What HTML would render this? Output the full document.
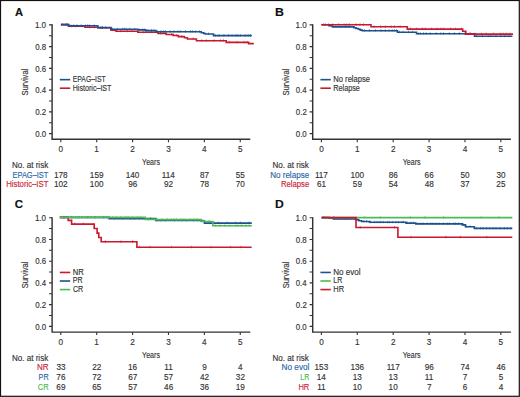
<!DOCTYPE html>
<html><head><meta charset="utf-8"><style>
html,body{margin:0;padding:0;background:#fff;}
body{width:520px;height:397px;overflow:hidden;}
svg{display:block;font-family:"Liberation Sans", sans-serif;}
</style></head><body>
<svg width="520" height="397" viewBox="0 0 520 397">
<rect x="0" y="0" width="520" height="397" fill="#fff"/>
<g transform="translate(0,0)">
<text transform="translate(14.92,15.50) scale(0.965,1)" font-size="11.60" font-weight="bold" fill="#111" stroke="#111" stroke-width="0.15">A</text>
<path d="M52.1,24.349999999999998 V139.3 H250.3" fill="none" stroke="#333333" stroke-width="1.45" stroke-linejoin="miter"/>
<path d="M49.0,24.90 H52.1 M49.0,35.77 H52.1 M49.0,46.64 H52.1 M49.0,57.51 H52.1 M49.0,68.38 H52.1 M49.0,79.25 H52.1 M49.0,90.12 H52.1 M49.0,100.99 H52.1 M49.0,111.86 H52.1 M49.0,122.73 H52.1 M49.0,133.60 H52.1 M60.80,139.3 V142.3 M96.69,139.3 V142.3 M132.58,139.3 V142.3 M168.47,139.3 V142.3 M204.36,139.3 V142.3 M240.25,139.3 V142.3" stroke="#333333" stroke-width="1.1"/>
<text transform="translate(34.89,28.10) scale(0.929,1)" font-size="8.70" fill="#333333" stroke="#333333" stroke-width="0.15">1.0</text>
<text transform="translate(35.19,49.84) scale(0.904,1)" font-size="8.70" fill="#333333" stroke="#333333" stroke-width="0.15">0.8</text>
<text transform="translate(35.18,71.58) scale(0.907,1)" font-size="8.70" fill="#333333" stroke="#333333" stroke-width="0.15">0.6</text>
<text transform="translate(35.19,93.32) scale(0.897,1)" font-size="8.70" fill="#333333" stroke="#333333" stroke-width="0.15">0.4</text>
<text transform="translate(35.18,115.06) scale(0.911,1)" font-size="8.70" fill="#333333" stroke="#333333" stroke-width="0.15">0.2</text>
<text transform="translate(35.19,136.80) scale(0.904,1)" font-size="8.70" fill="#333333" stroke="#333333" stroke-width="0.15">0.0</text>
<text transform="translate(58.53,151.80) scale(0.940,1)" font-size="8.70" fill="#333333" stroke="#333333" stroke-width="0.15">0</text>
<text transform="translate(94.32,151.80) scale(0.940,1)" font-size="8.70" fill="#333333" stroke="#333333" stroke-width="0.15">1</text>
<text transform="translate(130.31,151.80) scale(0.940,1)" font-size="8.70" fill="#333333" stroke="#333333" stroke-width="0.15">2</text>
<text transform="translate(166.22,151.80) scale(0.940,1)" font-size="8.70" fill="#333333" stroke="#333333" stroke-width="0.15">3</text>
<text transform="translate(202.11,151.80) scale(0.940,1)" font-size="8.70" fill="#333333" stroke="#333333" stroke-width="0.15">4</text>
<text transform="translate(237.98,151.80) scale(0.940,1)" font-size="8.70" fill="#333333" stroke="#333333" stroke-width="0.15">5</text>
<text transform="translate(142.12,165.00) scale(0.722,1)" font-size="9.80" fill="#333333" stroke="#333333" stroke-width="0.15">Years</text>
<g transform="translate(28.0,95.2) rotate(-90)"><text transform="translate(-0.34,0) scale(0.898,1)" font-size="8.40" fill="#333333" stroke="#333333" stroke-width="0.15">Survival</text></g>
<path d="M59.8,79.65 H70.2" stroke="#1d5290" stroke-width="1.6"/>
<text transform="translate(72.75,81.95) scale(0.787,1)" font-size="8.70" fill="#333333" stroke="#333333" stroke-width="0.15">EPAG–IST</text>
<path d="M59.8,88.21 H70.2" stroke="#c8192e" stroke-width="1.6"/>
<text transform="translate(72.73,90.65) scale(0.819,1)" font-size="8.70" fill="#333333" stroke="#333333" stroke-width="0.15">Historic–IST</text>
<text transform="translate(11.95,167.80) scale(0.928,1)" font-size="8.70" fill="#333333" stroke="#333333" stroke-width="0.15">No. at risk</text>
<text transform="translate(12.50,177.50) scale(0.858,1)" font-size="8.70" fill="#2a68a6" stroke="#2a68a6" stroke-width="0.15">EPAG–IST</text>
<text transform="translate(53.95,177.50) scale(0.940,1)" font-size="8.70" fill="#333333" stroke="#333333" stroke-width="0.15">178</text>
<text transform="translate(89.86,177.50) scale(0.940,1)" font-size="8.70" fill="#333333" stroke="#333333" stroke-width="0.15">159</text>
<text transform="translate(125.73,177.50) scale(0.940,1)" font-size="8.70" fill="#333333" stroke="#333333" stroke-width="0.15">140</text>
<text transform="translate(161.86,177.50) scale(0.940,1)" font-size="8.70" fill="#333333" stroke="#333333" stroke-width="0.15">114</text>
<text transform="translate(199.94,177.50) scale(0.940,1)" font-size="8.70" fill="#333333" stroke="#333333" stroke-width="0.15">87</text>
<text transform="translate(235.81,177.50) scale(0.940,1)" font-size="8.70" fill="#333333" stroke="#333333" stroke-width="0.15">55</text>
<text transform="translate(6.28,187.10) scale(0.890,1)" font-size="8.70" fill="#cc2438" stroke="#cc2438" stroke-width="0.15">Historic–IST</text>
<text transform="translate(53.99,187.10) scale(0.940,1)" font-size="8.70" fill="#333333" stroke="#333333" stroke-width="0.15">102</text>
<text transform="translate(89.84,187.10) scale(0.940,1)" font-size="8.70" fill="#333333" stroke="#333333" stroke-width="0.15">100</text>
<text transform="translate(128.14,187.10) scale(0.940,1)" font-size="8.70" fill="#333333" stroke="#333333" stroke-width="0.15">96</text>
<text transform="translate(164.05,187.10) scale(0.940,1)" font-size="8.70" fill="#333333" stroke="#333333" stroke-width="0.15">92</text>
<text transform="translate(199.88,187.10) scale(0.940,1)" font-size="8.70" fill="#333333" stroke="#333333" stroke-width="0.15">78</text>
<text transform="translate(235.77,187.10) scale(0.940,1)" font-size="8.70" fill="#333333" stroke="#333333" stroke-width="0.15">70</text>
</g>
<g transform="translate(260.6,0)">
<text transform="translate(14.40,15.50) scale(1.060,1)" font-size="11.60" font-weight="bold" fill="#111" stroke="#111" stroke-width="0.15">B</text>
<path d="M52.1,24.349999999999998 V139.3 H250.3" fill="none" stroke="#333333" stroke-width="1.45" stroke-linejoin="miter"/>
<path d="M49.0,24.90 H52.1 M49.0,35.77 H52.1 M49.0,46.64 H52.1 M49.0,57.51 H52.1 M49.0,68.38 H52.1 M49.0,79.25 H52.1 M49.0,90.12 H52.1 M49.0,100.99 H52.1 M49.0,111.86 H52.1 M49.0,122.73 H52.1 M49.0,133.60 H52.1 M60.80,139.3 V142.3 M96.69,139.3 V142.3 M132.58,139.3 V142.3 M168.47,139.3 V142.3 M204.36,139.3 V142.3 M240.25,139.3 V142.3" stroke="#333333" stroke-width="1.1"/>
<text transform="translate(34.89,28.10) scale(0.929,1)" font-size="8.70" fill="#333333" stroke="#333333" stroke-width="0.15">1.0</text>
<text transform="translate(35.19,49.84) scale(0.904,1)" font-size="8.70" fill="#333333" stroke="#333333" stroke-width="0.15">0.8</text>
<text transform="translate(35.18,71.58) scale(0.907,1)" font-size="8.70" fill="#333333" stroke="#333333" stroke-width="0.15">0.6</text>
<text transform="translate(35.19,93.32) scale(0.897,1)" font-size="8.70" fill="#333333" stroke="#333333" stroke-width="0.15">0.4</text>
<text transform="translate(35.18,115.06) scale(0.911,1)" font-size="8.70" fill="#333333" stroke="#333333" stroke-width="0.15">0.2</text>
<text transform="translate(35.19,136.80) scale(0.904,1)" font-size="8.70" fill="#333333" stroke="#333333" stroke-width="0.15">0.0</text>
<text transform="translate(58.53,151.80) scale(0.940,1)" font-size="8.70" fill="#333333" stroke="#333333" stroke-width="0.15">0</text>
<text transform="translate(94.32,151.80) scale(0.940,1)" font-size="8.70" fill="#333333" stroke="#333333" stroke-width="0.15">1</text>
<text transform="translate(130.31,151.80) scale(0.940,1)" font-size="8.70" fill="#333333" stroke="#333333" stroke-width="0.15">2</text>
<text transform="translate(166.22,151.80) scale(0.940,1)" font-size="8.70" fill="#333333" stroke="#333333" stroke-width="0.15">3</text>
<text transform="translate(202.11,151.80) scale(0.940,1)" font-size="8.70" fill="#333333" stroke="#333333" stroke-width="0.15">4</text>
<text transform="translate(237.98,151.80) scale(0.940,1)" font-size="8.70" fill="#333333" stroke="#333333" stroke-width="0.15">5</text>
<text transform="translate(142.12,165.00) scale(0.722,1)" font-size="9.80" fill="#333333" stroke="#333333" stroke-width="0.15">Years</text>
<g transform="translate(28.0,95.2) rotate(-90)"><text transform="translate(-0.34,0) scale(0.898,1)" font-size="8.40" fill="#333333" stroke="#333333" stroke-width="0.15">Survival</text></g>
<path d="M59.8,79.65 H70.2" stroke="#1d5290" stroke-width="1.6"/>
<text transform="translate(72.69,81.95) scale(0.874,1)" font-size="8.70" fill="#333333" stroke="#333333" stroke-width="0.15">No relapse</text>
<path d="M59.8,88.21 H70.2" stroke="#c8192e" stroke-width="1.6"/>
<text transform="translate(72.72,90.65) scale(0.833,1)" font-size="8.70" fill="#333333" stroke="#333333" stroke-width="0.15">Relapse</text>
<text transform="translate(11.95,167.80) scale(0.928,1)" font-size="8.70" fill="#333333" stroke="#333333" stroke-width="0.15">No. at risk</text>
<text transform="translate(9.55,177.50) scale(0.930,1)" font-size="8.70" fill="#2a68a6" stroke="#2a68a6" stroke-width="0.15">No relapse</text>
<text transform="translate(54.28,177.50) scale(0.940,1)" font-size="8.70" fill="#333333" stroke="#333333" stroke-width="0.15">117</text>
<text transform="translate(89.84,177.50) scale(0.940,1)" font-size="8.70" fill="#333333" stroke="#333333" stroke-width="0.15">100</text>
<text transform="translate(128.14,177.50) scale(0.940,1)" font-size="8.70" fill="#333333" stroke="#333333" stroke-width="0.15">86</text>
<text transform="translate(164.01,177.50) scale(0.940,1)" font-size="8.70" fill="#333333" stroke="#333333" stroke-width="0.15">66</text>
<text transform="translate(199.92,177.50) scale(0.940,1)" font-size="8.70" fill="#333333" stroke="#333333" stroke-width="0.15">50</text>
<text transform="translate(235.81,177.50) scale(0.940,1)" font-size="8.70" fill="#333333" stroke="#333333" stroke-width="0.15">30</text>
<text transform="translate(20.28,187.10) scale(0.888,1)" font-size="8.70" fill="#cc2438" stroke="#cc2438" stroke-width="0.15">Relapse</text>
<text transform="translate(56.36,187.10) scale(0.940,1)" font-size="8.70" fill="#333333" stroke="#333333" stroke-width="0.15">61</text>
<text transform="translate(92.27,187.10) scale(0.940,1)" font-size="8.70" fill="#333333" stroke="#333333" stroke-width="0.15">59</text>
<text transform="translate(128.10,187.10) scale(0.940,1)" font-size="8.70" fill="#333333" stroke="#333333" stroke-width="0.15">54</text>
<text transform="translate(164.09,187.10) scale(0.940,1)" font-size="8.70" fill="#333333" stroke="#333333" stroke-width="0.15">48</text>
<text transform="translate(199.96,187.10) scale(0.940,1)" font-size="8.70" fill="#333333" stroke="#333333" stroke-width="0.15">37</text>
<text transform="translate(235.77,187.10) scale(0.940,1)" font-size="8.70" fill="#333333" stroke="#333333" stroke-width="0.15">25</text>
</g>
<g transform="translate(0,192.8)">
<text transform="translate(14.74,15.50) scale(0.987,1)" font-size="11.60" font-weight="bold" fill="#111" stroke="#111" stroke-width="0.15">C</text>
<path d="M52.1,24.349999999999998 V139.3 H250.3" fill="none" stroke="#333333" stroke-width="1.45" stroke-linejoin="miter"/>
<path d="M49.0,24.90 H52.1 M49.0,35.77 H52.1 M49.0,46.64 H52.1 M49.0,57.51 H52.1 M49.0,68.38 H52.1 M49.0,79.25 H52.1 M49.0,90.12 H52.1 M49.0,100.99 H52.1 M49.0,111.86 H52.1 M49.0,122.73 H52.1 M49.0,133.60 H52.1 M60.80,139.3 V142.3 M96.69,139.3 V142.3 M132.58,139.3 V142.3 M168.47,139.3 V142.3 M204.36,139.3 V142.3 M240.25,139.3 V142.3" stroke="#333333" stroke-width="1.1"/>
<text transform="translate(34.89,28.10) scale(0.929,1)" font-size="8.70" fill="#333333" stroke="#333333" stroke-width="0.15">1.0</text>
<text transform="translate(35.19,49.84) scale(0.904,1)" font-size="8.70" fill="#333333" stroke="#333333" stroke-width="0.15">0.8</text>
<text transform="translate(35.18,71.58) scale(0.907,1)" font-size="8.70" fill="#333333" stroke="#333333" stroke-width="0.15">0.6</text>
<text transform="translate(35.19,93.32) scale(0.897,1)" font-size="8.70" fill="#333333" stroke="#333333" stroke-width="0.15">0.4</text>
<text transform="translate(35.18,115.06) scale(0.911,1)" font-size="8.70" fill="#333333" stroke="#333333" stroke-width="0.15">0.2</text>
<text transform="translate(35.19,136.80) scale(0.904,1)" font-size="8.70" fill="#333333" stroke="#333333" stroke-width="0.15">0.0</text>
<text transform="translate(58.53,151.80) scale(0.940,1)" font-size="8.70" fill="#333333" stroke="#333333" stroke-width="0.15">0</text>
<text transform="translate(94.32,151.80) scale(0.940,1)" font-size="8.70" fill="#333333" stroke="#333333" stroke-width="0.15">1</text>
<text transform="translate(130.31,151.80) scale(0.940,1)" font-size="8.70" fill="#333333" stroke="#333333" stroke-width="0.15">2</text>
<text transform="translate(166.22,151.80) scale(0.940,1)" font-size="8.70" fill="#333333" stroke="#333333" stroke-width="0.15">3</text>
<text transform="translate(202.11,151.80) scale(0.940,1)" font-size="8.70" fill="#333333" stroke="#333333" stroke-width="0.15">4</text>
<text transform="translate(237.98,151.80) scale(0.940,1)" font-size="8.70" fill="#333333" stroke="#333333" stroke-width="0.15">5</text>
<text transform="translate(142.12,165.00) scale(0.722,1)" font-size="9.80" fill="#333333" stroke="#333333" stroke-width="0.15">Years</text>
<g transform="translate(28.0,95.2) rotate(-90)"><text transform="translate(-0.34,0) scale(0.898,1)" font-size="8.40" fill="#333333" stroke="#333333" stroke-width="0.15">Survival</text></g>
<path d="M59.8,79.65 H70.2" stroke="#c8192e" stroke-width="1.6"/>
<text transform="translate(72.69,81.95) scale(0.874,1)" font-size="8.70" fill="#333333" stroke="#333333" stroke-width="0.15">NR</text>
<path d="M59.8,88.21 H70.2" stroke="#1d5290" stroke-width="1.6"/>
<text transform="translate(72.73,90.65) scale(0.812,1)" font-size="8.70" fill="#333333" stroke="#333333" stroke-width="0.15">PR</text>
<path d="M59.8,96.77 H70.2" stroke="#4dba55" stroke-width="1.6"/>
<text transform="translate(72.94,99.35) scale(0.820,1)" font-size="8.70" fill="#333333" stroke="#333333" stroke-width="0.15">CR</text>
<text transform="translate(11.95,167.80) scale(0.928,1)" font-size="8.70" fill="#333333" stroke="#333333" stroke-width="0.15">No. at risk</text>
<text transform="translate(37.06,177.50) scale(0.927,1)" font-size="8.70" fill="#cc2438" stroke="#cc2438" stroke-width="0.15">NR</text>
<text transform="translate(56.38,177.50) scale(0.940,1)" font-size="8.70" fill="#333333" stroke="#333333" stroke-width="0.15">33</text>
<text transform="translate(92.25,177.50) scale(0.940,1)" font-size="8.70" fill="#333333" stroke="#333333" stroke-width="0.15">22</text>
<text transform="translate(128.02,177.50) scale(0.940,1)" font-size="8.70" fill="#333333" stroke="#333333" stroke-width="0.15">16</text>
<text transform="translate(164.24,177.50) scale(0.940,1)" font-size="8.70" fill="#333333" stroke="#333333" stroke-width="0.15">11</text>
<text transform="translate(202.19,177.50) scale(0.940,1)" font-size="8.70" fill="#333333" stroke="#333333" stroke-width="0.15">9</text>
<text transform="translate(238.10,177.50) scale(0.940,1)" font-size="8.70" fill="#333333" stroke="#333333" stroke-width="0.15">4</text>
<text transform="translate(38.62,187.10) scale(0.830,1)" font-size="8.70" fill="#2a68a6" stroke="#2a68a6" stroke-width="0.15">PR</text>
<text transform="translate(56.34,187.10) scale(0.940,1)" font-size="8.70" fill="#333333" stroke="#333333" stroke-width="0.15">76</text>
<text transform="translate(92.25,187.10) scale(0.940,1)" font-size="8.70" fill="#333333" stroke="#333333" stroke-width="0.15">72</text>
<text transform="translate(128.14,187.10) scale(0.940,1)" font-size="8.70" fill="#333333" stroke="#333333" stroke-width="0.15">67</text>
<text transform="translate(164.07,187.10) scale(0.940,1)" font-size="8.70" fill="#333333" stroke="#333333" stroke-width="0.15">57</text>
<text transform="translate(200.02,187.10) scale(0.940,1)" font-size="8.70" fill="#333333" stroke="#333333" stroke-width="0.15">42</text>
<text transform="translate(235.85,187.10) scale(0.940,1)" font-size="8.70" fill="#333333" stroke="#333333" stroke-width="0.15">32</text>
<text transform="translate(37.82,196.70) scale(0.863,1)" font-size="8.70" fill="#4cb84f" stroke="#4cb84f" stroke-width="0.15">CR</text>
<text transform="translate(56.34,196.70) scale(0.940,1)" font-size="8.70" fill="#333333" stroke="#333333" stroke-width="0.15">69</text>
<text transform="translate(92.21,196.70) scale(0.940,1)" font-size="8.70" fill="#333333" stroke="#333333" stroke-width="0.15">65</text>
<text transform="translate(128.18,196.70) scale(0.940,1)" font-size="8.70" fill="#333333" stroke="#333333" stroke-width="0.15">57</text>
<text transform="translate(164.11,196.70) scale(0.940,1)" font-size="8.70" fill="#333333" stroke="#333333" stroke-width="0.15">46</text>
<text transform="translate(199.94,196.70) scale(0.940,1)" font-size="8.70" fill="#333333" stroke="#333333" stroke-width="0.15">36</text>
<text transform="translate(235.69,196.70) scale(0.940,1)" font-size="8.70" fill="#333333" stroke="#333333" stroke-width="0.15">19</text>
</g>
<g transform="translate(260.6,192.8)">
<text transform="translate(14.41,15.50) scale(1.051,1)" font-size="11.60" font-weight="bold" fill="#111" stroke="#111" stroke-width="0.15">D</text>
<path d="M52.1,24.349999999999998 V139.3 H250.3" fill="none" stroke="#333333" stroke-width="1.45" stroke-linejoin="miter"/>
<path d="M49.0,24.90 H52.1 M49.0,35.77 H52.1 M49.0,46.64 H52.1 M49.0,57.51 H52.1 M49.0,68.38 H52.1 M49.0,79.25 H52.1 M49.0,90.12 H52.1 M49.0,100.99 H52.1 M49.0,111.86 H52.1 M49.0,122.73 H52.1 M49.0,133.60 H52.1 M60.80,139.3 V142.3 M96.69,139.3 V142.3 M132.58,139.3 V142.3 M168.47,139.3 V142.3 M204.36,139.3 V142.3 M240.25,139.3 V142.3" stroke="#333333" stroke-width="1.1"/>
<text transform="translate(34.89,28.10) scale(0.929,1)" font-size="8.70" fill="#333333" stroke="#333333" stroke-width="0.15">1.0</text>
<text transform="translate(35.19,49.84) scale(0.904,1)" font-size="8.70" fill="#333333" stroke="#333333" stroke-width="0.15">0.8</text>
<text transform="translate(35.18,71.58) scale(0.907,1)" font-size="8.70" fill="#333333" stroke="#333333" stroke-width="0.15">0.6</text>
<text transform="translate(35.19,93.32) scale(0.897,1)" font-size="8.70" fill="#333333" stroke="#333333" stroke-width="0.15">0.4</text>
<text transform="translate(35.18,115.06) scale(0.911,1)" font-size="8.70" fill="#333333" stroke="#333333" stroke-width="0.15">0.2</text>
<text transform="translate(35.19,136.80) scale(0.904,1)" font-size="8.70" fill="#333333" stroke="#333333" stroke-width="0.15">0.0</text>
<text transform="translate(58.53,151.80) scale(0.940,1)" font-size="8.70" fill="#333333" stroke="#333333" stroke-width="0.15">0</text>
<text transform="translate(94.32,151.80) scale(0.940,1)" font-size="8.70" fill="#333333" stroke="#333333" stroke-width="0.15">1</text>
<text transform="translate(130.31,151.80) scale(0.940,1)" font-size="8.70" fill="#333333" stroke="#333333" stroke-width="0.15">2</text>
<text transform="translate(166.22,151.80) scale(0.940,1)" font-size="8.70" fill="#333333" stroke="#333333" stroke-width="0.15">3</text>
<text transform="translate(202.11,151.80) scale(0.940,1)" font-size="8.70" fill="#333333" stroke="#333333" stroke-width="0.15">4</text>
<text transform="translate(237.98,151.80) scale(0.940,1)" font-size="8.70" fill="#333333" stroke="#333333" stroke-width="0.15">5</text>
<text transform="translate(142.12,165.00) scale(0.722,1)" font-size="9.80" fill="#333333" stroke="#333333" stroke-width="0.15">Years</text>
<g transform="translate(28.0,95.2) rotate(-90)"><text transform="translate(-0.34,0) scale(0.898,1)" font-size="8.40" fill="#333333" stroke="#333333" stroke-width="0.15">Survival</text></g>
<path d="M59.8,79.65 H70.2" stroke="#1d5290" stroke-width="1.6"/>
<text transform="translate(72.65,81.95) scale(0.932,1)" font-size="8.70" fill="#333333" stroke="#333333" stroke-width="0.15">No evol</text>
<path d="M59.8,88.21 H70.2" stroke="#4dba55" stroke-width="1.6"/>
<text transform="translate(72.74,90.65) scale(0.810,1)" font-size="8.70" fill="#333333" stroke="#333333" stroke-width="0.15">LR</text>
<path d="M59.8,96.77 H70.2" stroke="#c8192e" stroke-width="1.6"/>
<text transform="translate(72.70,99.35) scale(0.857,1)" font-size="8.70" fill="#333333" stroke="#333333" stroke-width="0.15">HR</text>
<text transform="translate(11.95,167.80) scale(0.928,1)" font-size="8.70" fill="#333333" stroke="#333333" stroke-width="0.15">No. at risk</text>
<text transform="translate(20.94,177.50) scale(0.946,1)" font-size="8.70" fill="#2a68a6" stroke="#2a68a6" stroke-width="0.15">No evol</text>
<text transform="translate(53.97,177.50) scale(0.940,1)" font-size="8.70" fill="#333333" stroke="#333333" stroke-width="0.15">153</text>
<text transform="translate(89.86,177.50) scale(0.940,1)" font-size="8.70" fill="#333333" stroke="#333333" stroke-width="0.15">136</text>
<text transform="translate(126.06,177.50) scale(0.940,1)" font-size="8.70" fill="#333333" stroke="#333333" stroke-width="0.15">117</text>
<text transform="translate(164.03,177.50) scale(0.940,1)" font-size="8.70" fill="#333333" stroke="#333333" stroke-width="0.15">96</text>
<text transform="translate(199.84,177.50) scale(0.940,1)" font-size="8.70" fill="#333333" stroke="#333333" stroke-width="0.15">74</text>
<text transform="translate(235.89,177.50) scale(0.940,1)" font-size="8.70" fill="#333333" stroke="#333333" stroke-width="0.15">46</text>
<text transform="translate(39.74,187.10) scale(0.800,1)" font-size="8.70" fill="#4cb84f" stroke="#4cb84f" stroke-width="0.15">LR</text>
<text transform="translate(56.18,187.10) scale(0.940,1)" font-size="8.70" fill="#333333" stroke="#333333" stroke-width="0.15">14</text>
<text transform="translate(92.13,187.10) scale(0.940,1)" font-size="8.70" fill="#333333" stroke="#333333" stroke-width="0.15">13</text>
<text transform="translate(128.02,187.10) scale(0.940,1)" font-size="8.70" fill="#333333" stroke="#333333" stroke-width="0.15">13</text>
<text transform="translate(164.24,187.10) scale(0.940,1)" font-size="8.70" fill="#333333" stroke="#333333" stroke-width="0.15">11</text>
<text transform="translate(202.19,187.10) scale(0.940,1)" font-size="8.70" fill="#333333" stroke="#333333" stroke-width="0.15">7</text>
<text transform="translate(238.08,187.10) scale(0.940,1)" font-size="8.70" fill="#333333" stroke="#333333" stroke-width="0.15">5</text>
<text transform="translate(37.80,196.70) scale(0.865,1)" font-size="8.70" fill="#cc2438" stroke="#cc2438" stroke-width="0.15">HR</text>
<text transform="translate(56.57,196.70) scale(0.940,1)" font-size="8.70" fill="#333333" stroke="#333333" stroke-width="0.15">11</text>
<text transform="translate(92.11,196.70) scale(0.940,1)" font-size="8.70" fill="#333333" stroke="#333333" stroke-width="0.15">10</text>
<text transform="translate(128.00,196.70) scale(0.940,1)" font-size="8.70" fill="#333333" stroke="#333333" stroke-width="0.15">10</text>
<text transform="translate(166.30,196.70) scale(0.940,1)" font-size="8.70" fill="#333333" stroke="#333333" stroke-width="0.15">7</text>
<text transform="translate(202.17,196.70) scale(0.940,1)" font-size="8.70" fill="#333333" stroke="#333333" stroke-width="0.15">6</text>
<text transform="translate(238.10,196.70) scale(0.940,1)" font-size="8.70" fill="#333333" stroke="#333333" stroke-width="0.15">4</text>
</g>
<path d="M60.9,24.60 H68.5 V26.30 H85 V27.30 H98.2 V27.60 H111 V30.10 H116 V31.20 H137.8 V32.20 H158 V33.40 H166.2 V34.50 H173.2 V35.50 H178.4 V36.60 H184.4 V37.70 H187.4 V39.00 H196.4 V40.80 H226.2 V42.40 H248.7 V43.60 H253.8" fill="none" stroke="#c8192e" stroke-width="1.6" stroke-linejoin="miter" stroke-linecap="butt"/><path d="M66.1,23.10V25.60M71.6,24.80V27.30M76.2,24.80V27.30M82.2,24.80V27.30M89.9,25.80V28.30M94.7,25.80V28.30M102.1,26.10V28.60M114.5,28.60V31.10M120.8,29.70V32.20M127.5,29.70V32.20M132.0,29.70V32.20M143.7,30.70V33.20M151.6,30.70V33.20M160.6,31.90V34.40M171.7,33.00V35.50M176.6,34.00V36.50M181.6,35.10V37.60M193.2,37.50V40.00M201.7,39.30V41.80M206.3,39.30V41.80M214.1,39.30V41.80M220.4,39.30V41.80M223.5,39.30V41.80M229.2,40.90V43.40M237.1,40.90V43.40M244.2,40.90V43.40M247.2,40.90V43.40" stroke="#c8192e" stroke-width="0.7" opacity="0.85"/>
<path d="M60.9,24.60 H68.5 V25.80 H97.8 V27.80 H110.9 V29.30 H137.8 V29.90 H145.8 V30.60 H156.0 V31.70 H201.3 V32.80 H203.7 V33.50 H205.4 V34.00 H213.5 V35.60 H251.8" fill="none" stroke="#1d5290" stroke-width="1.6" stroke-linejoin="miter" stroke-linecap="butt"/><path d="M62.2,23.10V25.60M67.0,23.10V25.60M70.1,24.30V26.80M73.6,24.30V26.80M76.9,24.30V26.80M81.0,24.30V26.80M85.5,24.30V26.80M87.6,24.30V26.80M89.4,24.30V26.80M94.1,24.30V26.80M100.7,26.30V28.80M102.5,26.30V28.80M105.8,26.30V28.80M112.5,27.80V30.30M117.5,27.80V30.30M122.4,27.80V30.30M124.3,27.80V30.30M126.1,27.80V30.30M129.8,27.80V30.30M134.8,27.80V30.30M139.3,28.40V30.90M142.6,28.40V30.90M144.4,28.40V30.90M147.9,29.10V31.60M151.4,29.10V31.60M153.9,29.10V31.60M157.5,30.20V32.70M160.9,30.20V32.70M163.7,30.20V32.70M165.5,30.20V32.70M170.2,30.20V32.70M173.9,30.20V32.70M177.9,30.20V32.70M180.3,30.20V32.70M185.5,30.20V32.70M190.3,30.20V32.70M192.4,30.20V32.70M195.3,30.20V32.70M199.6,30.20V32.70M208.5,32.50V35.00M215.3,34.10V36.60M219.1,34.10V36.60M223.9,34.10V36.60M228.6,34.10V36.60M232.1,34.10V36.60M235.9,34.10V36.60M237.8,34.10V36.60M240.4,34.10V36.60M245.0,34.10V36.60M248.2,34.10V36.60M250.5,34.10V36.60" stroke="#1d5290" stroke-width="0.7" opacity="0.85"/>
<path d="M321.4,24.80 H329 V25.80 H332.4 V26.90 H354 V27.70 H356 V28.50 H358.4 V29.30 H360.3 V30.10 H362.3 V30.70 H397.5 V32.20 H416.5 V33.70 H474.5 V36.20 H512.4" fill="none" stroke="#1d5290" stroke-width="1.6" stroke-linejoin="miter" stroke-linecap="butt"/><path d="M325.3,23.30V25.80M330.2,24.30V26.80M335.9,25.40V27.90M340.9,25.40V27.90M345.5,25.40V27.90M348.8,25.40V27.90M364.5,29.20V31.70M369.4,29.20V31.70M375.4,29.20V31.70M381.1,29.20V31.70M385.3,29.20V31.70M389.1,29.20V31.70M392.2,29.20V31.70M394.3,29.20V31.70M396.4,29.20V31.70M399.5,30.70V33.20M403.0,30.70V33.20M408.5,30.70V33.20M412.6,30.70V33.20M418.2,32.20V34.70M420.3,32.20V34.70M423.6,32.20V34.70M426.2,32.20V34.70M430.2,32.20V34.70M436.2,32.20V34.70M440.9,32.20V34.70M443.6,32.20V34.70M449.2,32.20V34.70M454.4,32.20V34.70M459.3,32.20V34.70M464.9,32.20V34.70M470.0,32.20V34.70M476.6,34.70V37.20M482.5,34.70V37.20M488.3,34.70V37.20M491.0,34.70V37.20M496.0,34.70V37.20M500.9,34.70V37.20M504.7,34.70V37.20M508.8,34.70V37.20" stroke="#1d5290" stroke-width="0.7" opacity="0.85"/>
<path d="M321.4,24.80 H371 V26.80 H407.3 V29.10 H462.7 V31.30 H465.8 V34.10 H513.0" fill="none" stroke="#c8192e" stroke-width="1.6" stroke-linejoin="miter" stroke-linecap="butt"/><path d="M323.4,23.30V25.80M328.6,23.30V25.80M332.9,23.30V25.80M338.4,23.30V25.80M344.1,23.30V25.80M346.9,23.30V25.80M349.5,23.30V25.80M356.2,23.30V25.80M359.9,23.30V25.80M363.6,23.30V25.80M373.9,25.30V27.80M380.6,25.30V27.80M385.4,25.30V27.80M391.1,25.30V27.80M394.4,25.30V27.80M400.1,25.30V27.80M410.4,27.60V30.10M416.6,27.60V30.10M422.5,27.60V30.10M425.3,27.60V30.10M431.6,27.60V30.10M437.0,27.60V30.10M441.0,27.60V30.10M443.7,27.60V30.10M450.5,27.60V30.10M455.4,27.60V30.10M461.5,27.60V30.10M470.5,32.60V35.10M475.0,32.60V35.10M481.5,32.60V35.10M486.2,32.60V35.10M493.4,32.60V35.10M500.3,32.60V35.10M503.2,32.60V35.10M506.4,32.60V35.10M510.0,32.60V35.10" stroke="#c8192e" stroke-width="0.7" opacity="0.85"/>
<path d="M59.8,217.40 H68.2 V220.40 H71.6 V224.10 H94.2 V228.50 H97.1 V233.10 H98.8 V237.50 H101.2 V241.80 H136.9 V247.30 H251.6" fill="none" stroke="#c8192e" stroke-width="1.6" stroke-linejoin="miter" stroke-linecap="butt"/><path d="M64.1,215.90V218.40M74.8,222.60V225.10M83.3,222.60V225.10M105.3,240.30V242.80M120.9,240.30V242.80M132.5,240.30V242.80M139.4,245.80V248.30M150.1,245.80V248.30M171.5,245.80V248.30M191.4,245.80V248.30M211.0,245.80V248.30M230.6,245.80V248.30M241.0,245.80V248.30" stroke="#c8192e" stroke-width="0.7" opacity="0.85"/>
<path d="M59.8,217.40 H109.2 V218.60 H155.8 V220.40 H201.3 V221.00 H204.5 V223.10 H251.8" fill="none" stroke="#1d5290" stroke-width="1.6" stroke-linejoin="miter" stroke-linecap="butt"/><path d="M63.9,215.90V218.40M71.4,215.90V218.40M79.1,215.90V218.40M87.8,215.90V218.40M95.2,215.90V218.40M103.8,215.90V218.40M106.9,215.90V218.40M114.9,217.10V219.60M121.8,217.10V219.60M130.2,217.10V219.60M133.9,217.10V219.60M139.7,217.10V219.60M144.2,217.10V219.60M150.5,217.10V219.60M156.9,218.90V221.40M161.2,218.90V221.40M165.8,218.90V221.40M174.3,218.90V221.40M181.9,218.90V221.40M185.9,218.90V221.40M193.7,218.90V221.40M197.5,218.90V221.40M202.9,219.50V222.00M209.9,221.60V224.10M214.1,221.60V224.10M218.4,221.60V224.10M227.3,221.60V224.10M235.5,221.60V224.10M240.3,221.60V224.10M249.0,221.60V224.10" stroke="#1d5290" stroke-width="0.7" opacity="0.85"/>
<path d="M59.8,217.40 H145.4 V219.40 H155.8 V219.60 H201.3 V221.50 H212.9 V225.80 H251.8" fill="none" stroke="#4dba55" stroke-width="1.6" stroke-linejoin="miter" stroke-linecap="butt"/><path d="M63.2,215.90V218.40M68.5,215.90V218.40M72.4,215.90V218.40M75.5,215.90V218.40M77.5,215.90V218.40M82.1,215.90V218.40M86.0,215.90V218.40M91.0,215.90V218.40M94.5,215.90V218.40M99.6,215.90V218.40M102.7,215.90V218.40M107.9,215.90V218.40M112.8,215.90V218.40M116.5,215.90V218.40M120.6,215.90V218.40M125.4,215.90V218.40M128.1,215.90V218.40M132.3,215.90V218.40M137.6,215.90V218.40M140.6,215.90V218.40M148.5,217.90V220.40M153.8,217.90V220.40M157.1,218.10V220.60M162.3,218.10V220.60M167.5,218.10V220.60M171.3,218.10V220.60M173.7,218.10V220.60M176.4,218.10V220.60M181.0,218.10V220.60M184.1,218.10V220.60M190.0,218.10V220.60M194.3,218.10V220.60M197.1,218.10V220.60M203.4,220.00V222.50M209.1,220.00V222.50M215.4,224.30V226.80M220.0,224.30V226.80M224.8,224.30V226.80M230.0,224.30V226.80M235.9,224.30V226.80M238.1,224.30V226.80M241.5,224.30V226.80M245.9,224.30V226.80M249.1,224.30V226.80" stroke="#4dba55" stroke-width="0.7" opacity="0.85"/>
<path d="M321.6,217.60 H329.2 V218.30 H333.3 V218.90 H356 V219.80 H358.8 V220.70 H361.7 V221.50 H369.6 V222.30 H406 V223.10 H415.8 V223.90 H462.2 V224.90 H465.4 V226.70 H474.3 V228.40 H512.3" fill="none" stroke="#1d5290" stroke-width="1.6" stroke-linejoin="miter" stroke-linecap="butt"/><path d="M323.2,216.10V218.60M325.2,216.10V218.60M330.3,216.80V219.30M335.0,217.40V219.90M336.7,217.40V219.90M339.7,217.40V219.90M341.3,217.40V219.90M344.1,217.40V219.90M345.9,217.40V219.90M347.6,217.40V219.90M350.4,217.40V219.90M354.4,217.40V219.90M357.4,218.30V220.80M363.9,220.00V222.50M366.5,220.00V222.50M370.7,220.80V223.30M374.8,220.80V223.30M377.1,220.80V223.30M379.1,220.80V223.30M380.9,220.80V223.30M383.3,220.80V223.30M387.3,220.80V223.30M389.3,220.80V223.30M392.6,220.80V223.30M396.0,220.80V223.30M398.6,220.80V223.30M401.8,220.80V223.30M403.4,220.80V223.30M407.4,221.60V224.10M411.0,221.60V224.10M413.7,221.60V224.10M418.0,222.40V224.90M420.8,222.40V224.90M423.2,222.40V224.90M427.1,222.40V224.90M430.7,222.40V224.90M432.9,222.40V224.90M436.2,222.40V224.90M439.2,222.40V224.90M443.4,222.40V224.90M447.1,222.40V224.90M449.4,222.40V224.90M453.9,222.40V224.90M455.7,222.40V224.90M458.5,222.40V224.90M463.5,223.40V225.90M466.5,225.20V227.70M470.0,225.20V227.70M476.4,226.90V229.40M480.6,226.90V229.40M483.0,226.90V229.40M486.6,226.90V229.40M489.9,226.90V229.40M493.1,226.90V229.40M496.0,226.90V229.40M500.0,226.90V229.40M504.3,226.90V229.40M507.3,226.90V229.40M510.8,226.90V229.40" stroke="#1d5290" stroke-width="0.7" opacity="0.85"/>
<path d="M321.6,217.60 H512.3" fill="none" stroke="#4dba55" stroke-width="1.6" stroke-linejoin="miter" stroke-linecap="butt"/><path d="M328.0,216.10V218.60M364.6,216.10V218.60M380.3,216.10V218.60M410.4,216.10V218.60M425.0,216.10V218.60M443.7,216.10V218.60M481.2,216.10V218.60M498.9,216.10V218.60" stroke="#4dba55" stroke-width="0.7" opacity="0.85"/>
<path d="M321.6,217.60 H356 V227.50 H397.9 V237.30 H512.3" fill="none" stroke="#c8192e" stroke-width="1.6" stroke-linejoin="miter" stroke-linecap="butt"/><path d="M333.7,216.10V218.60M360.3,226.00V228.50M394.5,226.00V228.50M411.0,235.80V238.30M445.9,235.80V238.30M460.4,235.80V238.30M486.8,235.80V238.30" stroke="#c8192e" stroke-width="0.7" opacity="0.85"/>
<rect x="0.5" y="0.5" width="518.8" height="395.8" fill="none" stroke="#151113" stroke-width="1.2"/>
</svg>
</body></html>
